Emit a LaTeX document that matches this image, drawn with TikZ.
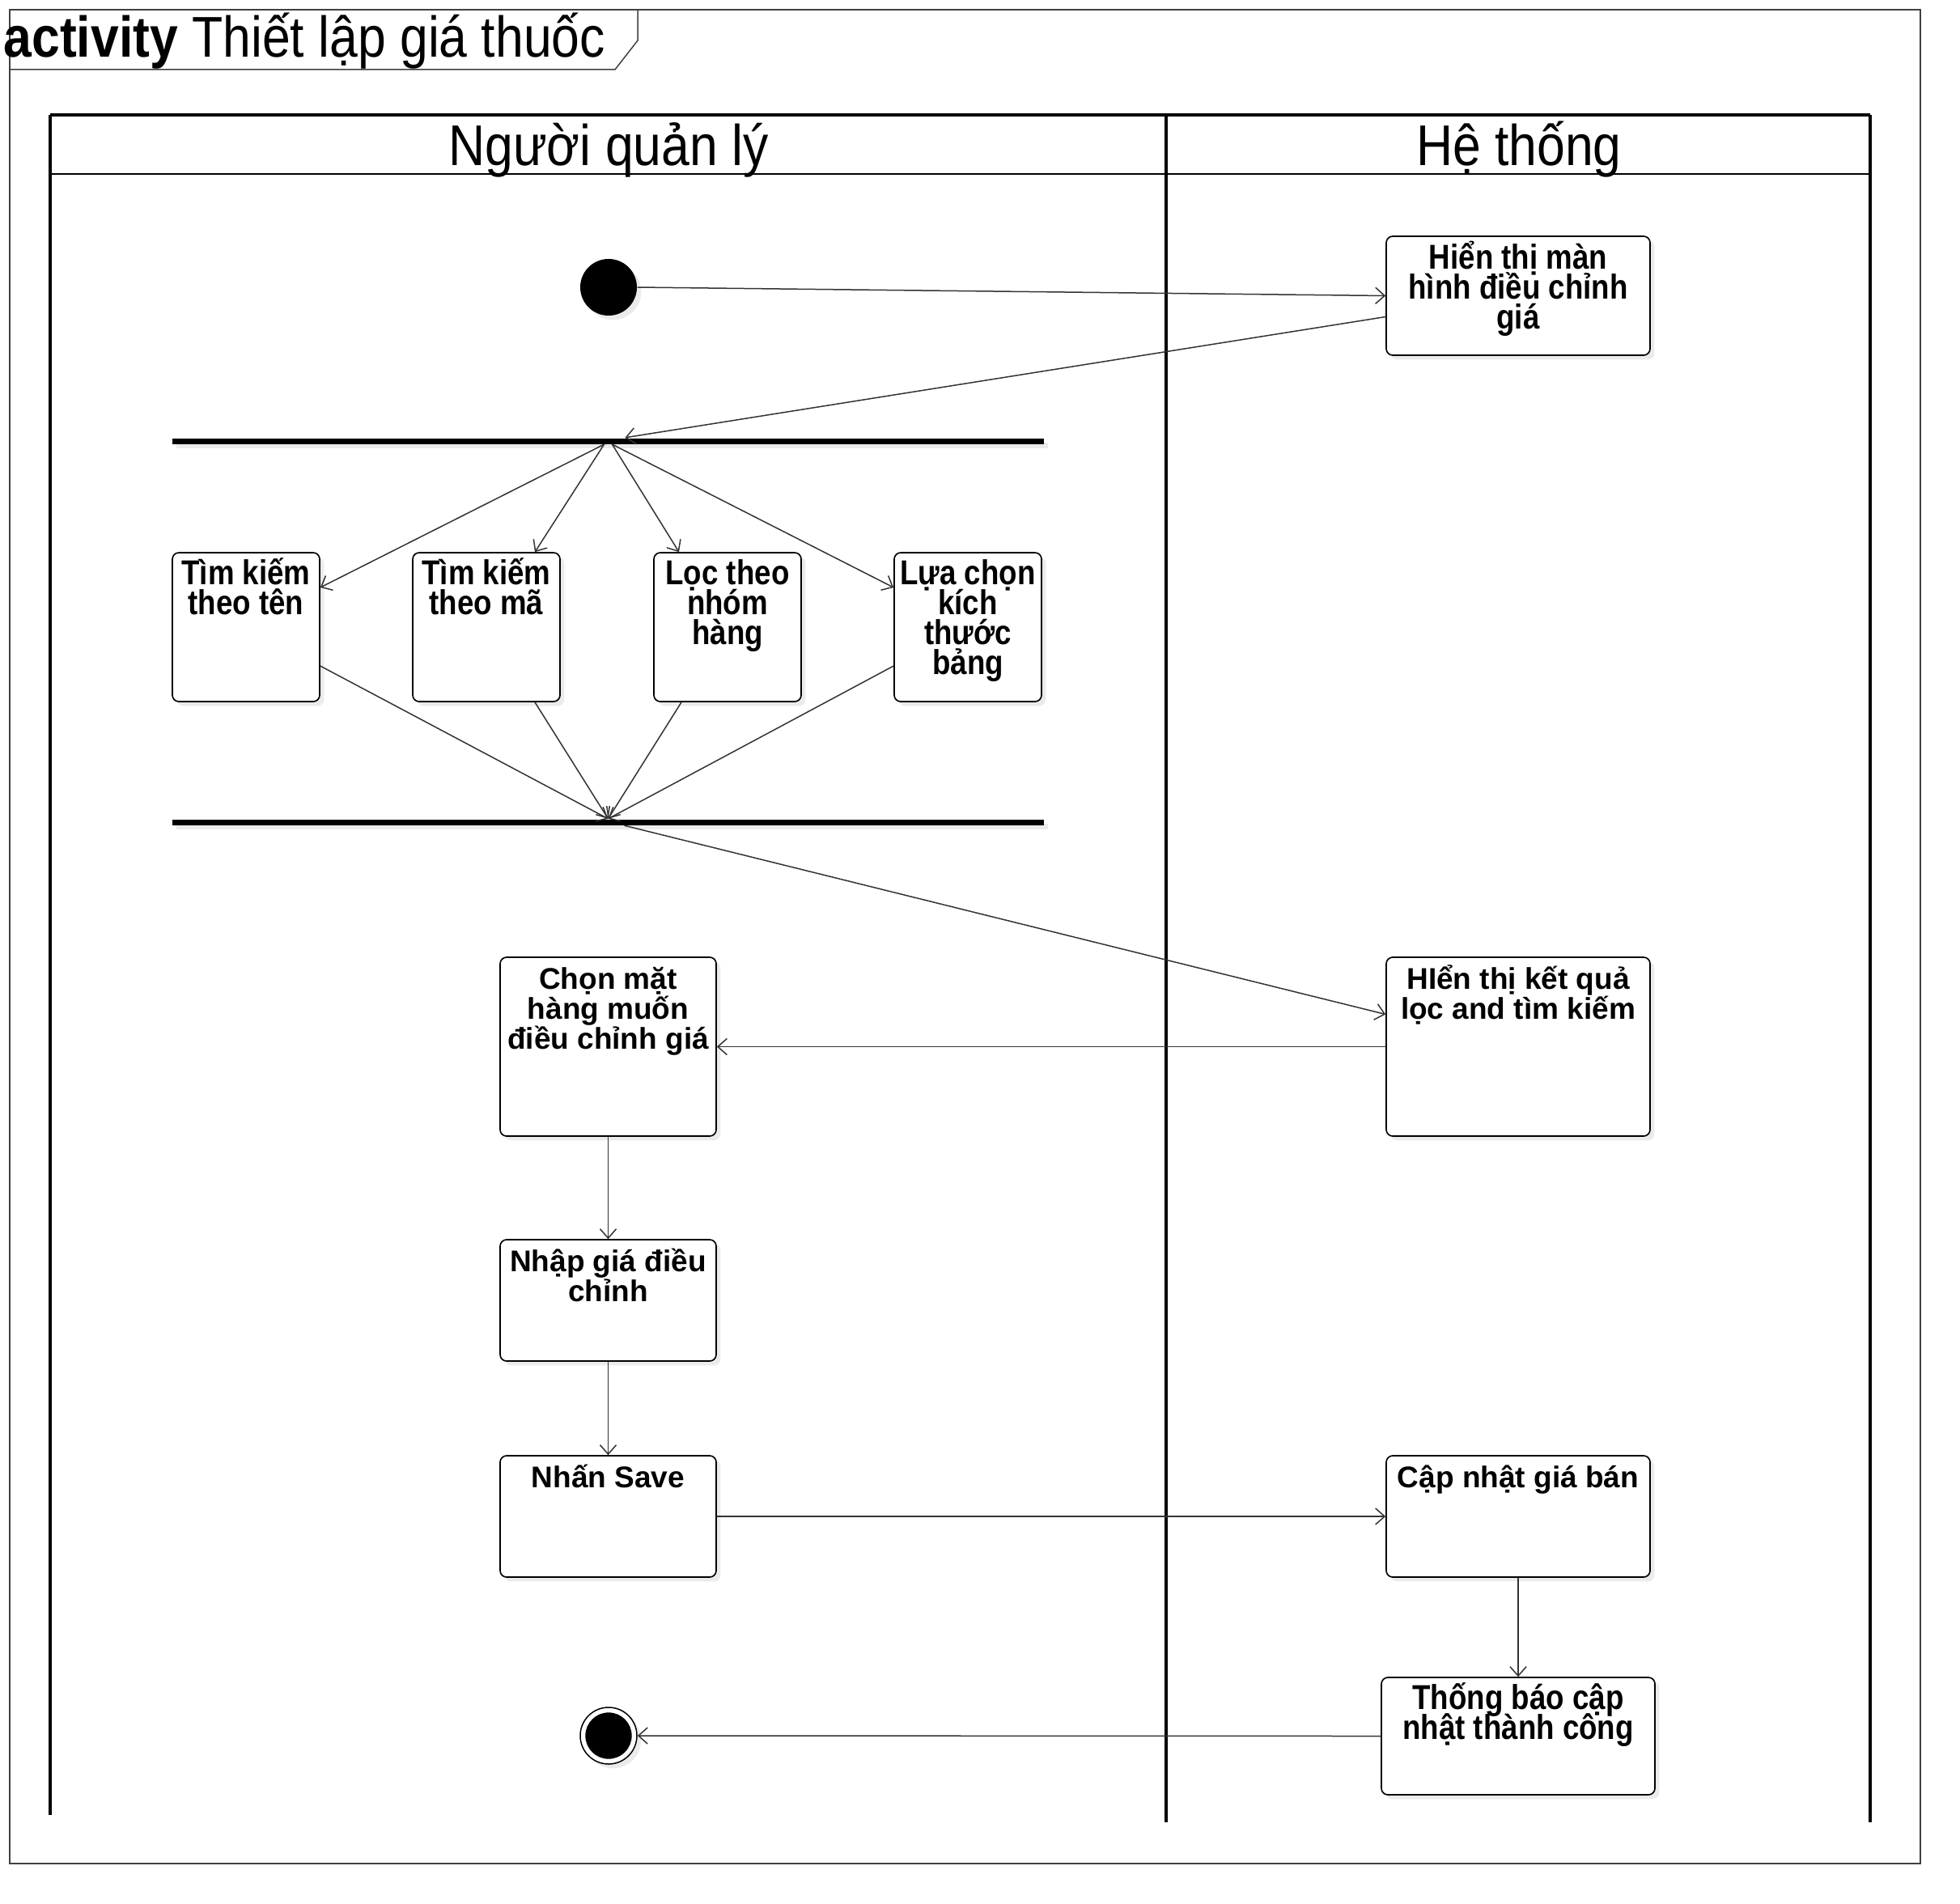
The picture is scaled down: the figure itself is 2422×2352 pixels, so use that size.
\documentclass[tikz,border=0pt]{standalone}
\usepackage{fontspec}
\setmainfont{Liberation Sans}
\newfontfamily\narrowfont[FakeStretch=0.86]{Liberation Sans}
\newfontfamily\titlefont[FakeStretch=0.88]{Liberation Sans}
\usetikzlibrary{arrows.meta,calc,shadows}

\newcommand{\boxlines}[2]{\parbox[t]{#1}{\lineskiplimit=-100pt\lineskip=0pt\centering #2}}

\tikzset{
  myshadow/.style={drop shadow={shadow xshift=1.6pt,shadow yshift=-1.6pt,fill=black!8,opacity=1}},
  actbox/.style={draw=black, line width=0.5pt, rounded corners=2.4pt, fill=white, myshadow, inner sep=0pt},
  barnode/.style={fill=black, draw=none, inner sep=0pt, minimum width=323.1pt, minimum height=2.1pt, myshadow},
  flow/.style={draw=black!80, line width=0.45pt, -{Straight Barb[length=3.4pt,width=6pt,line width=0.45pt]}},
  regtext/.style={anchor=base, inner sep=0pt, font=\fontsize{11.1pt}{11.1pt}\selectfont\bfseries},
  nartext/.style={anchor=base, inner sep=0pt, font=\narrowfont\fontsize{12.8pt}{11.1pt}\selectfont\bfseries},
  bigtext/.style={inner sep=0pt, font=\titlefont\fontsize{21.3pt}{24pt}\selectfont},
  laneline/.style={draw=black, line width=1.1pt},
  frameline/.style={draw=black!75, line width=0.45pt}
}

\begin{document}
\begin{tikzpicture}[x=0.3pt,y=-0.3pt]
\useasboundingbox (0,0) rectangle (2422,2352);

% frame
\draw[frameline] (12,12) rectangle (2373,2303);
\draw[frameline] (12,86) -- (760,86) -- (788,50) -- (788,12);
\node[bigtext, anchor=base west] (title) at (4,71) {\textbf{activity} Thiết lập giá thuốc};

% swimlanes
\draw[laneline] (62,142) -- (2311,142);
\draw[draw=black, line width=0.8pt] (62,215) -- (2311,215);
\draw[laneline] (62,142) -- (62,2243);
\draw[laneline] (1441,142) -- (1441,2252);
\draw[laneline] (2311,142) -- (2311,2252);
\node[bigtext, anchor=base] (lane1) at (752,204) {Người quản lý};
\node[bigtext, anchor=base] (lane2) at (1877,204) {Hệ thống};

% initial and final
\node[circle, fill=black, minimum size=21pt, inner sep=0pt, myshadow] (init) at (752,355) {};
\node[circle, draw=black, line width=0.45pt, fill=white, minimum size=21pt, inner sep=0pt, myshadow] (final) at (752,2145) {};
\node[circle, fill=black, minimum size=17.2pt, inner sep=0pt] (finalin) at (752,2145) {};

% bars
\node[barnode] (fork) at (751.5,545) {};
\node[barnode] (join) at (751.5,1016) {};

% action boxes
\node[actbox, minimum width=97.8pt, minimum height=44.1pt] (ht1) at (1876,365.5) {};
\node[nartext] (ht1t) at (1876,332) {\boxlines{97.8pt}{Hiển thị màn\\hình điều chỉnh\\giá}};

\node[actbox, minimum width=54.6pt, minimum height=55.2pt] (b1) at (304,775) {};
\node[nartext] (b1t) at (304,722) {\boxlines{54.6pt}{Tìm kiếm\\theo tên}};
\node[actbox, minimum width=54.6pt, minimum height=55.2pt] (b2) at (601,775) {};
\node[nartext] (b2t) at (601,722) {\boxlines{54.6pt}{Tìm kiếm\\theo mã}};
\node[actbox, minimum width=54.6pt, minimum height=55.2pt] (b3) at (899,775) {};
\node[nartext] (b3t) at (899,722) {\boxlines{54.6pt}{Lọc theo\\nhóm\\hàng}};
\node[actbox, minimum width=54.6pt, minimum height=55.2pt] (b4) at (1196,775) {};
\node[nartext] (b4t) at (1196,722) {\boxlines{54.6pt}{Lựa chọn\\kích\\thước\\bảng}};

\node[actbox, minimum width=97.8pt, minimum height=66.3pt] (ht2) at (1876,1293.5) {};
\node[regtext] (ht2t) at (1876,1222) {\boxlines{97.8pt}{HIển thị kết quả\\lọc and tìm kiếm}};

\node[actbox, minimum width=80.1pt, minimum height=66.3pt] (chon) at (751.5,1293.5) {};
\node[regtext] (chont) at (751.5,1222) {\boxlines{80.1pt}{Chọn mặt\\hàng muốn\\điều chỉnh giá}};

\node[actbox, minimum width=80.1pt, minimum height=45pt] (nhap) at (751.5,1607) {};
\node[regtext] (nhapt) at (751.5,1571) {\boxlines{80.1pt}{Nhập giá điều\\chỉnh}};

\node[actbox, minimum width=80.1pt, minimum height=45pt] (save) at (751.5,1874) {};
\node[regtext] (savet) at (751.5,1838) {\boxlines{80.1pt}{Nhấn Save}};

\node[actbox, minimum width=97.8pt, minimum height=45pt] (cap) at (1876,1874) {};
\node[regtext] (capt) at (1876,1838) {\boxlines{97.8pt}{Cập nhật giá bán}};

\node[actbox, minimum width=101.4pt, minimum height=43.5pt] (tb) at (1876,2145.5) {};
\node[nartext] (tbt) at (1876,2112) {\boxlines{101.4pt}{Thống báo cập\\nhật thành công}};

% connectors
\draw[flow] (init.east) -- (ht1.west);
\draw[flow] ($(ht1.west)+(0,26)$) -- ($(fork.north)+(21,0)$);
\draw[flow] ($(fork.south)+(-5,0)$) -- ($(b1.east)+(0,-49)$);
\draw[flow] ($(fork.south)+(-5,0)$) -- ($(b2.north)+(60,0)$);
\draw[flow] ($(fork.south)+(5,0)$) -- ($(b3.north)+(-60,0)$);
\draw[flow] ($(fork.south)+(5,0)$) -- ($(b4.west)+(0,-49)$);
\draw[flow] ($(b1.east)+(0,48)$) -- (join.north);
\draw[flow] ($(b2.south)+(60,0)$) -- (join.north);
\draw[flow] ($(b3.south)+(-57,0)$) -- (join.north);
\draw[flow] ($(b4.west)+(0,48)$) -- (join.north);
\draw[flow] ($(join.south)+(20,0)$) -- ($(ht2.west)+(0,-40)$);
\draw[flow] (ht2.west) -- (chon.east);
\draw[flow] (chon.south) -- (nhap.north);
\draw[flow] (nhap.south) -- (save.north);
\draw[flow] (save.east) -- (cap.west);
\draw[flow] (cap.south) -- (tb.north);
\draw[flow] (tb.west) -- (final.east);
\end{tikzpicture}
\end{document}
